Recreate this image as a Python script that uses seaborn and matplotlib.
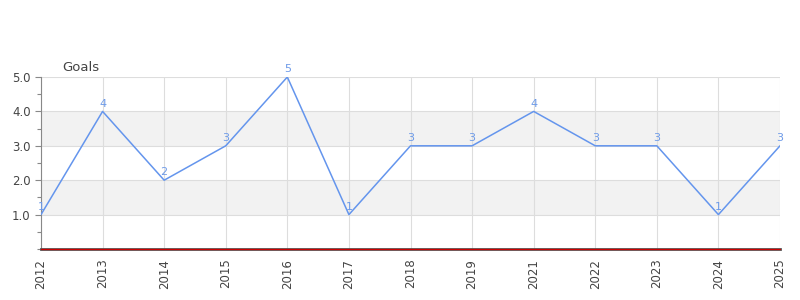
import matplotlib
matplotlib.use("Agg")
import matplotlib.pyplot as plt
import seaborn as sns
import pandas as pd
import numpy as np
from matplotlib.ticker import MultipleLocator

years = ["2012", "2013", "2014", "2015", "2016", "2017", "2018", "2019",
         "2021", "2022", "2023", "2024", "2025"]
goals = [1, 4, 2, 3, 5, 1, 3, 3, 4, 3, 3, 1, 3]
title = "Goals"

df = pd.DataFrame({"year": years, "goals": goals})
df["pos"] = np.arange(len(years))

sns.set_style("white")
plt.rcParams['font.family'] = ['DejaVu Sans']

fig = plt.figure(figsize=(8, 3), dpi=100)
ax = fig.add_axes([0.05125, 0.17, 0.975 - 0.05125, 0.7433 - 0.17])

line_color = "#6495ed"
ax.set_xlim(0, len(years) - 1)
ax.set_ylim(0, 5)

for lo in (1, 3):
    ax.axhspan(lo, lo + 1, color="#f2f2f2", zorder=0, lw=0)

sns.lineplot(data=df, x="pos", y="goals", ax=ax, color=line_color, lw=1.1, zorder=3)

for p, v in zip(df["pos"], df["goals"]):
    ax.text(p, v + 0.08, str(v), ha="center", va="bottom", fontsize=8,
            color="#6d9ae8", zorder=4)

ax.set_xticks(df["pos"])
ax.set_xticklabels(years, rotation=90, fontsize=8.5, color="#444444")
ax.set_yticks([1, 2, 3, 4, 5])
ax.set_yticklabels(["1.0", "2.0", "3.0", "4.0", "5.0"], fontsize=8.5, color="#444444")
ax.yaxis.set_minor_locator(MultipleLocator(0.5))
ax.tick_params(axis="y", which="both", left=True, length=4, color="#888888", width=0.8)
ax.tick_params(axis="y", which="minor", length=3)
ax.tick_params(axis="x", bottom=False, length=0, pad=7)
ax.grid(True, color="#dddddd", lw=0.8, zorder=1)
ax.set_axisbelow(True)

ax.set_xlabel("")
ax.set_ylabel("")
for s in ("top", "right"):
    ax.spines[s].set_visible(False)
ax.spines["left"].set_color("#888888")
ax.spines["bottom"].set_color("#555555")
ax.spines["bottom"].set_linewidth(2.0)
ax.spines["bottom"].set_zorder(4)

ax.axhline(0, color="#cc0000", lw=0.9, zorder=6, clip_on=False)

fig.text(62 / 800, 1 - 67 / 300, title, fontsize=9.5, color="#444444",
         ha="left", va="center")

fig.savefig("out.png", dpi=100)
